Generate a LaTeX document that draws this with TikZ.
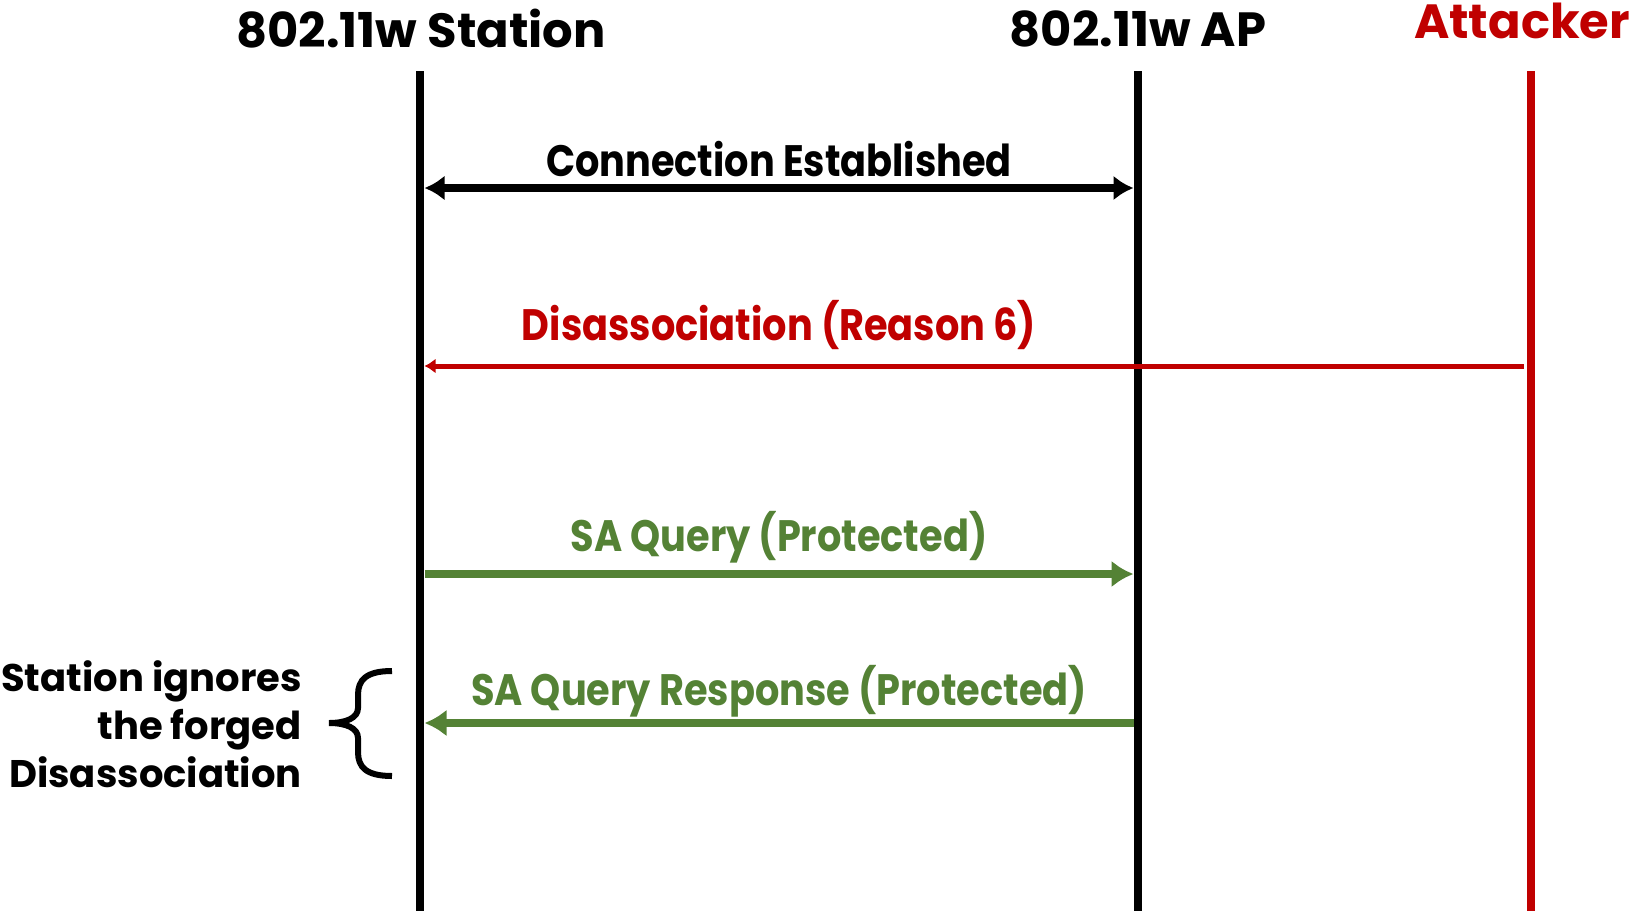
\documentclass[tikz,border=0pt]{standalone}
\usepackage{fontspec}
\setmainfont{Poppins}
\newfontfamily\narrowfont{Poppins}[FakeStretch=0.87]
\usetikzlibrary{arrows.meta,calc}
\definecolor{attackred}{HTML}{C00000}
\definecolor{querygreen}{HTML}{548235}

\begin{document}
\begin{tikzpicture}[x=1pt,y=-1pt,>=Latex,
  lifeline/.style={line width=8.5pt},
  msg/.style={line width=8.5pt,shorten >=4.5pt,shorten <=4.5pt},
  head/.style={font=\fontsize{48}{56}\selectfont\bfseries},
  msglabel/.style={font=\narrowfont\fontsize{44}{52}\selectfont\bfseries,inner sep=0pt},
  note/.style={font=\fontsize{38.5}{48}\selectfont\bfseries,align=right,inner sep=0pt}]
  \useasboundingbox (0,0) rectangle (1631,911);
  \node[head] (sta) at (421,29) {802.11w Station};
  \node[head] (ap) at (1138,29) {802.11w AP};
  \node[head,attackred] (att) at (1522,21) {Attacker};
  % lifelines
  \foreach \n/\x/\c in {sta/420/black,ap/1138/black,att/1531/attackred} {
    \coordinate (\n-top) at (\x,71);
    \coordinate (\n-bot) at (\x,911);
    \draw[lifeline,\c] (\n-top) -- (\n-bot);
  }
  % message rows
  \foreach \n/\x in {sta/420,ap/1138,att/1531} {
    \coordinate (\n-conn) at (\x,188);
    \coordinate (\n-dis) at (\x,366);
    \coordinate (\n-sa) at (\x,574);
    \coordinate (\n-resp) at (\x,723);
  }
  \draw[msg,{Latex[length=20pt,width=25pt]}-{Latex[length=20pt,width=25pt]}] (sta-conn) -- (ap-conn)
    node[midway,above=7pt,msglabel] (conn) {Connection Established};
  \draw[msg,attackred,line width=5pt,shorten >=4.5pt,shorten <=7pt,-{Latex[length=11pt,width=15pt]}] (att-dis) -- (sta-dis);
  \node[msglabel,attackred,above=16pt] (dis) at ($(sta-dis)!0.5!(ap-dis)$) {Disassociation (Reason 6)};
  \draw[msg,querygreen,-{Latex[length=22pt,width=27pt]}] (sta-sa) -- (ap-sa)
    node[midway,above=6.5pt,msglabel] (sa) {SA Query (Protected)};
  \draw[msg,querygreen,-{Latex[length=22pt,width=27pt]}] (ap-resp) -- (sta-resp)
    node[midway,above=2pt,msglabel] (resp) {SA Query Response (Protected)};
  % note on the left
  \node[note,anchor=east] (ign) at (302,724) {Station ignores\\the forged\\Disassociation};
  \draw[line width=6pt] (392,671) .. controls (366,671) and (358,680) .. (358,695) -- (358,708)
    .. controls (358,718) and (346,723) .. (329,723)
    .. controls (346,723) and (358,728) .. (358,738) -- (358,752)
    .. controls (358,767) and (366,776) .. (392,776);
\end{tikzpicture}
\end{document}
